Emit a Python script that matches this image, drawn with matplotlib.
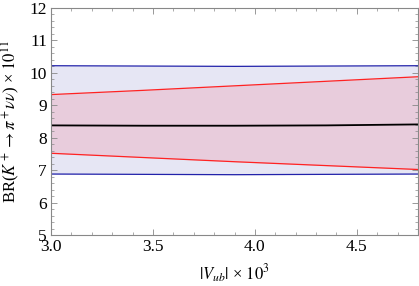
import matplotlib
matplotlib.use("Agg")
import matplotlib.pyplot as plt
from matplotlib.ticker import MultipleLocator

vub = [3.0, 3.45, 3.9, 4.35, 4.8]
blue_hi = [10.22, 10.21, 10.20, 10.21, 10.22]
blue_lo = [6.88, 6.87, 6.86, 6.87, 6.88]
red_hi = [9.33, 9.46, 9.60, 9.74, 9.88]
red_lo = [7.52, 7.39, 7.26, 7.14, 7.02]
central = [8.38, 8.37, 8.37, 8.38, 8.41]

plt.rcParams['font.family'] = ['Liberation Serif', 'DejaVu Serif']
plt.rcParams['mathtext.fontset'] = 'stix'

fig = plt.figure(figsize=(4.19, 2.86), dpi=100)
ax = fig.add_axes([51/419, 1 - 235/286, (418 - 51)/419, (235 - 8)/286])

ax.fill_between(vub, blue_lo, blue_hi, color='#e6e6f4', lw=0)
ax.fill_between(vub, red_lo, red_hi, color='#e8ccdc', lw=0)
ax.plot(vub, blue_hi, color='#2222aa', lw=0.9)
ax.plot(vub, blue_lo, color='#2222aa', lw=0.9)
ax.plot(vub, red_hi, color='#ff2222', lw=0.9)
ax.plot(vub, red_lo, color='#ff2222', lw=0.9)
ax.plot(vub, central, color='black', lw=1.3)

ax.set_xlim(3.0, 4.8)
ax.set_ylim(5, 12)
ax.xaxis.set_major_locator(MultipleLocator(0.5))
ax.xaxis.set_minor_locator(MultipleLocator(0.1))
ax.yaxis.set_major_locator(MultipleLocator(1))
ax.yaxis.set_minor_locator(MultipleLocator(0.2))
ax.xaxis.set_major_formatter(matplotlib.ticker.FormatStrFormatter('%.1f'))
ax.tick_params(which='both', direction='in', top=True, right=True, color='#888888', labelsize=12.5)
ax.tick_params(axis='x', pad=3)
ax.tick_params(axis='y', pad=3)
ax.tick_params(which='major', length=4, width=0.6)
ax.tick_params(which='minor', length=2, width=0.5)
for s in ax.spines.values():
    s.set_color('#888888')
    s.set_linewidth(0.8)

ax.set_xlabel(r'$|V_{ub}|$ × $10^3$', fontsize=12, labelpad=5)
ax.set_ylabel(r'BR($K^+\to\pi^+\nu\nu$) × $10^{11}$', fontsize=12, labelpad=5)

fig.savefig('out.png', dpi=100)
